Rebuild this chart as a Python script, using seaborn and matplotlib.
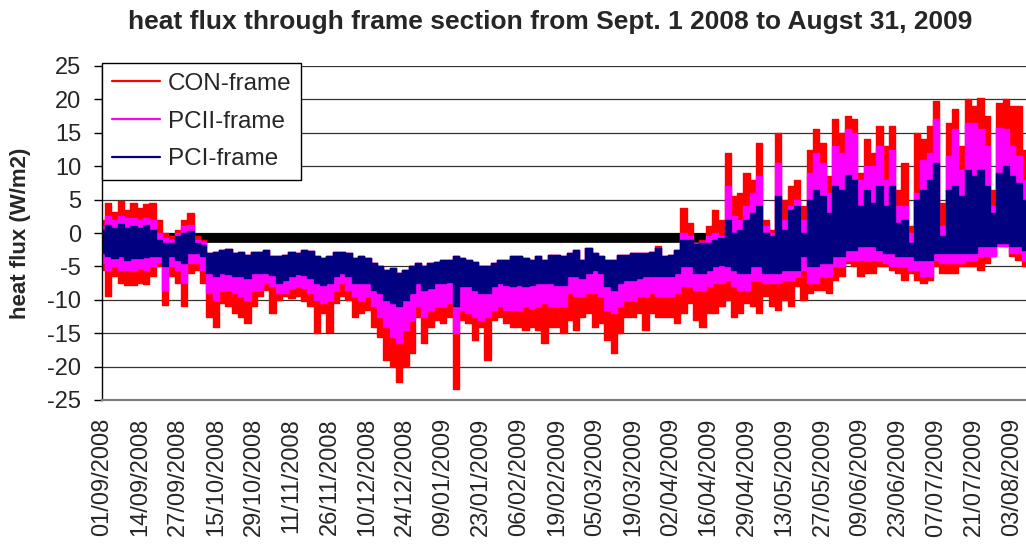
import numpy as np
import pandas as pd
import matplotlib
matplotlib.use('Agg')
import matplotlib.pyplot as plt
import seaborn as sns

# ── Data (envelope of the hourly series per ~2 day step) ──
date_labels = ['01/09/2008', '14/09/2008', '27/09/2008', '15/10/2008', '29/10/2008',
               '11/11/2008', '26/11/2008', '10/12/2008', '24/12/2008', '09/01/2009',
               '23/01/2009', '06/02/2009', '19/02/2009', '05/03/2009', '19/03/2009',
               '02/04/2009', '16/04/2009', '29/04/2009', '13/05/2009', '27/05/2009',
               '09/06/2009', '23/06/2009', '07/07/2009', '21/07/2009', '03/08/2009']
steps_per_label = 6

con_hi = [2, 4.5, 3.2, 4.8, 3.5, 4.5, 3.8, 4.3, 4.5, 2, 0, -0.5, 0.5, 2, 3, -0.5, -1,
          -3, -2.8, -2.5, -2.4, -3, -2.8, -3.3, -2.8, -2.8, -2.5, -3.5, -3.5, -3.3, -2.8,
          -3, -2.5, -2.7, -3.5, -3.8, -3.5, -2.8, -2.8, -3, -3.8, -3.5, -3.8, -4.5, -5,
          -5.5, -5.3, -6, -5.5, -5, -4.5, -5, -4.5, -4.3, -4, -4, -3.5, -3.8, -4, -4.3,
          -5, -5, -4.5, -4, -4, -3.5, -3.5, -3.8, -4, -3.5, -4, -3.3, -3.3, -3.5, -3,
          -2.5, -4, -2.3, -3, -3.5, -4, -4, -3.3, -3.3, -3, -3, -3, -2.8, -2, -3.5, -3.3,
          -2.5, 3.7, 1.5, -1.5, -1, 1, 3.5, 2, 12, 5.5, 6, 9, 8, 13.5, 2, 0.5, 15, 5, 7,
          8, 4, 12.5, 15.5, 13.5, 8.5, 17, 15, 17.5, 17, 9, 14, 12, 16, 13, 16, 6.5, 10.5,
          1, 15, 14, 16, 19.7, 4.5, 16.5, 18.5, 13, 20, 19, 20.2, 17.5, 6.5, 19.5, 20, 19,
          19, 12.5, 12]
con_lo = [-5.5, -9.5, -6.5, -7.5, -7.8, -7.8, -7.5, -7.6, -6.5, -5, -10.8, -6.5, -7.5,
          -11, -6, -5.5, -7.5, -12.5, -14, -10.5, -11, -12, -12.5, -13.5, -11, -9.5, -8.5,
          -12, -10, -9.5, -9.8, -9.5, -10.2, -11, -15, -12, -14.8, -10.5, -9.5, -10, -12.5,
          -12, -11.5, -14, -15.5, -19, -20, -22.3, -20, -18, -12.5, -16.5, -14, -13, -13.5,
          -12.5, -23.3, -13, -13.5, -16, -14, -19, -13, -12.5, -13.5, -14, -14, -14.5, -14,
          -14.5, -16.5, -14, -14, -15, -13, -14.5, -12.5, -12, -14, -13.5, -16, -18, -15,
          -12.5, -12.5, -12, -14.5, -12, -12.5, -12.5, -12.5, -13.5, -12, -10.5, -13, -14,
          -12, -12, -11, -10, -12.5, -12, -10.5, -11, -12, -9.5, -11, -11.5, -10, -11, -8,
          -10, -9, -8.5, -8.5, -9, -7, -6.5, -4.5, -5, -6.5, -6, -6, -5, -5, -5.5, -6, -7,
          -6, -7, -7.5, -7, -5, -6, -6, -6, -5, -5, -5, -5.5, -4.5, -3.5, -2, -2, -3.5, -4,
          -5, -5]
pcii_hi = [1, 2.5, 2, 2.5, 2.2, 2.2, 2, 2.3, 2, 0, -0.8, -1, 0, 1, 1.2, -1, -1.3,
           -3, -2.8, -2.5, -2.4, -3, -2.8, -3.3, -2.8, -2.8, -2.5, -3.5, -3.5, -3.3, -2.8,
           -3, -2.5, -2.7, -3.5, -3.8, -3.5, -2.8, -2.8, -3, -3.8, -3.5, -3.8, -4.5, -5,
           -5.5, -5.3, -6, -5.5, -5, -4.5, -5, -4.5, -4.3, -4, -4, -3.5, -3.8, -4, -4.3,
           -5, -5, -4.5, -4, -4, -3.5, -3.5, -3.8, -4, -3.5, -4, -3.3, -3.3, -3.5, -3,
           -2.5, -4, -2.3, -3, -3.5, -4, -4, -3.3, -3.3, -3, -3, -3, -2.8, -2.3, -3.5, -3.3,
           -2.5, 0, -0.5, -1.5, -1.3, -0.5, 0, -0.5, 7, 2.5, 2, 4, 6, 8.5, 1, 0, 10.5, 2, 4,
           5, 2, 9, 12, 10.5, 6, 13, 12, 15.5, 15, 8, 10, 10, 13, 8, 12.5, 4, 4, 0, 6, 11,
           12, 17, 1, 11.5, 15.5, 9.5, 16.5, 16.5, 15.5, 13, 4, 15.7, 15.5, 13, 11.5, 8, 6]
pcii_lo = [-4.5, -5.5, -5, -5.5, -5.5, -5.5, -5.3, -5.5, -5, -4.3, -8.5, -5, -5.5, -7.5,
           -4.5, -4.5, -5.5, -9, -10, -8.5, -8.5, -9, -9.5, -10, -8.5, -8.5, -7.5, -8, -9,
           -9, -8.3, -8, -8.2, -9, -10, -10.5, -10, -8.5, -7.5, -8.5, -9.5, -10, -9.5, -11,
           -12.5, -14, -15.5, -16.5, -14.5, -13, -11, -12.5, -11.5, -11, -11, -10.5, -15,
           -11.5, -12, -12.5, -13, -12.5, -11.5, -11, -11.5, -11.5, -11.5, -11, -11.3, -11,
           -10.5, -11, -11, -11, -9, -9.5, -9.5, -9, -9, -9.5, -11.5, -12, -11, -10, -10,
           -9.5, -9.5, -9, -9.5, -9.5, -9.5, -9, -8, -8, -8.5, -8.5, -8, -7.5, -7.5, -7,
           -8, -8.5, -8.5, -7, -7, -7.5, -7.5, -7.5, -7, -7, -6.5, -5.5, -7.5, -7.5, -6.5,
           -6.5, -5, -5, -4, -4, -4, -4, -4, -4, -4.5, -5, -5, -5, -5.5, -5.5, -6.5, -6.5,
           -4, -4.5, -4.5, -4.5, -4.5, -4, -4, -3.5, -3.5, -3.5, -2, -2, -3, -3, -4, -4]
pci_hi = [0.5, 1.2, 0.8, 1.3, 0.8, 1, 0.8, 1.2, 0.5, -1, -1.5, -1.5, -0.5, 0, 0.3, -1.5,
          -1.8, -3, -2.8, -2.5, -2.4, -3, -2.8, -3.3, -2.8, -2.8, -2.5, -3.5, -3.5, -3.3,
          -2.8, -3, -2.5, -2.7, -3.5, -3.8, -3.5, -2.8, -2.8, -3, -3.8, -3.5, -3.8, -4.5,
          -5, -5.5, -5.3, -6, -5.5, -5, -4.5, -5, -4.5, -4.3, -4, -4, -3.5, -3.8, -4, -4.3,
          -5, -5, -4.5, -4, -4, -3.5, -3.5, -3.8, -4, -3.5, -4, -3.3, -3.3, -3.5, -3, -2.5,
          -4, -2.3, -3, -3.5, -4, -4, -3.3, -3.3, -3, -3, -3, -2.8, -2.3, -3.5, -3.3, -2.5,
          -1, -1, -1.7, -1.5, -1.5, -1, -0.8, 2, 0, 0.5, 2, 3, 4, 0, -0.5, 5.5, 0.5, 3.5,
          4, 0, 5, 6.5, 5.5, 3, 7, 6.5, 8.7, 8, 4, 6.5, 4.5, 7, 4, 7, 1.5, 2, -1.5, 5, 6.5,
          8, 10.5, -0.5, 6.5, 7, 5.5, 9.5, 8.5, 9.5, 7, 3, 9, 10, 8.5, 7.5, 5, 3]
pci_lo = [-3, -3.5, -3.8, -3.5, -4, -3.8, -3.8, -3.6, -3.5, -3.5, -5, -3.5, -4, -4.5, -3,
          -3, -3.5, -6, -6.5, -6, -6.2, -6.5, -6.5, -6.8, -6, -6, -6, -6.3, -7.5, -7, -6.5,
          -6.2, -6.3, -6.8, -7.5, -7.8, -7.5, -6.5, -6, -6.5, -7.5, -7.5, -7.5, -8.5, -9,
          -10, -10.5, -11, -10, -9, -7.5, -8.5, -8.3, -7.5, -7.5, -7.3, -11, -8, -8, -8.5,
          -9, -9, -8, -7.5, -7.8, -8, -7.8, -8, -7.8, -7.5, -7.5, -7.5, -7.8, -7.8, -6.5,
          -6.5, -6.8, -6, -5.5, -6, -8, -8.5, -7.5, -7, -7, -6.8, -6.5, -6.5, -6.5, -6.5,
          -6.5, -6, -5, -5, -6, -6, -5.5, -5, -4.8, -5, -5.5, -6, -6, -5, -5, -6, -6, -6,
          -5.5, -5.5, -5.5, -3.5, -5, -5, -4.5, -4.5, -3.5, -3.5, -2.5, -2.5, -2, -2, -2,
          -2.5, -3, -3, -3.5, -3.5, -3.5, -4, -4, -4, -3, -3, -3, -3, -3, -3, -3, -2, -2,
          -2, -1.5, -1.5, -2, -2, -2.5, -3]

# flat black reference series (not in legend)
ref_step = [0, 147]
ref_flux = [-0.7, -0.7]

series = [('CON-frame', con_lo, con_hi, '#FF0000'),
          ('PCII-frame', pcii_lo, pcii_hi, '#FF00FF'),
          ('PCI-frame', pci_lo, pci_hi, '#000080')]

# ── Plot ───────────────────────────────────────────────────────────────
sns.set_theme(style='white')
plt.rcParams['font.family'] = ['Liberation Sans', 'DejaVu Sans']
plt.rcParams['axes.unicode_minus'] = False

W, H = 1026, 546
fig = plt.figure(figsize=(W / 100, H / 100), dpi=100)
px_per_step = 6.32
ax = fig.add_axes([102 / W, 146 / H, 156 * px_per_step / W, 334 / H])

sns.lineplot(x=ref_step, y=ref_flux, color='black', lw=7, ax=ax, zorder=1)
ax.lines[-1].set_solid_capstyle('butt')

for name, lo, hi, col in series:
    df = pd.DataFrame({'step': np.arange(len(lo)), 'lo': lo, 'hi': hi})
    ax.fill_between(df['step'], df['lo'], df['hi'], color=col, lw=0, step='mid', zorder=2)
    sns.lineplot(data=df, x='step', y='hi', color=col, lw=1.0, ax=ax, label=name,
                 drawstyle='steps-mid', zorder=2)
    sns.lineplot(data=df, x='step', y='lo', color=col, lw=1.0, ax=ax,
                 drawstyle='steps-mid', zorder=2)

ax.set_xlim(0, 156)
ax.set_ylim(-25, 25)
ax.set_yticks(range(-25, 26, 5))
ax.set_xticks(np.arange(len(date_labels)) * steps_per_label)
ax.set_xticklabels(date_labels, rotation=90, fontsize=17)
ax.tick_params(axis='x', length=0, pad=13)
ax.tick_params(axis='y', length=6, width=1, color='black', direction='out', pad=9,
               labelsize=17, left=True)
ax.set_xlabel('')
ax.set_ylabel('')
ax.yaxis.grid(True, color='#333333', lw=0.9)
ax.xaxis.grid(False)
ax.set_axisbelow(True)
for s in ['top', 'right']:
    ax.spines[s].set_visible(False)
ax.spines['left'].set_color('black')
ax.spines['left'].set_linewidth(1.0)
ax.spines['bottom'].set_color('#808080')
ax.spines['bottom'].set_linewidth(1.6)

leg = ax.legend(loc='upper left', bbox_to_anchor=(102 / W, 1 - 63 / H),
                bbox_transform=fig.transFigure, frameon=True, fancybox=False,
                edgecolor='black', framealpha=1, borderaxespad=0, fontsize=17.5,
                handlelength=2.0, handletextpad=0.3, labelspacing=0.65, borderpad=0.4)
leg.get_frame().set_linewidth(1.0)
leg.set_zorder(5)
for h in leg.get_lines():
    h.set_linewidth(1.6)
    h.set_drawstyle('default')

fig.text(550 / W, 1 - 22 / H,
         'heat flux through frame section from Sept. 1 2008 to Augst 31, 2009',
         ha='center', va='center', fontsize=19, fontweight='bold')
fig.text(21 / W, 313 / H, 'heat flux (W/m2)', rotation=90, ha='center', va='center',
         fontsize=16, fontweight='bold')

fig.savefig('out.png', dpi=100)
